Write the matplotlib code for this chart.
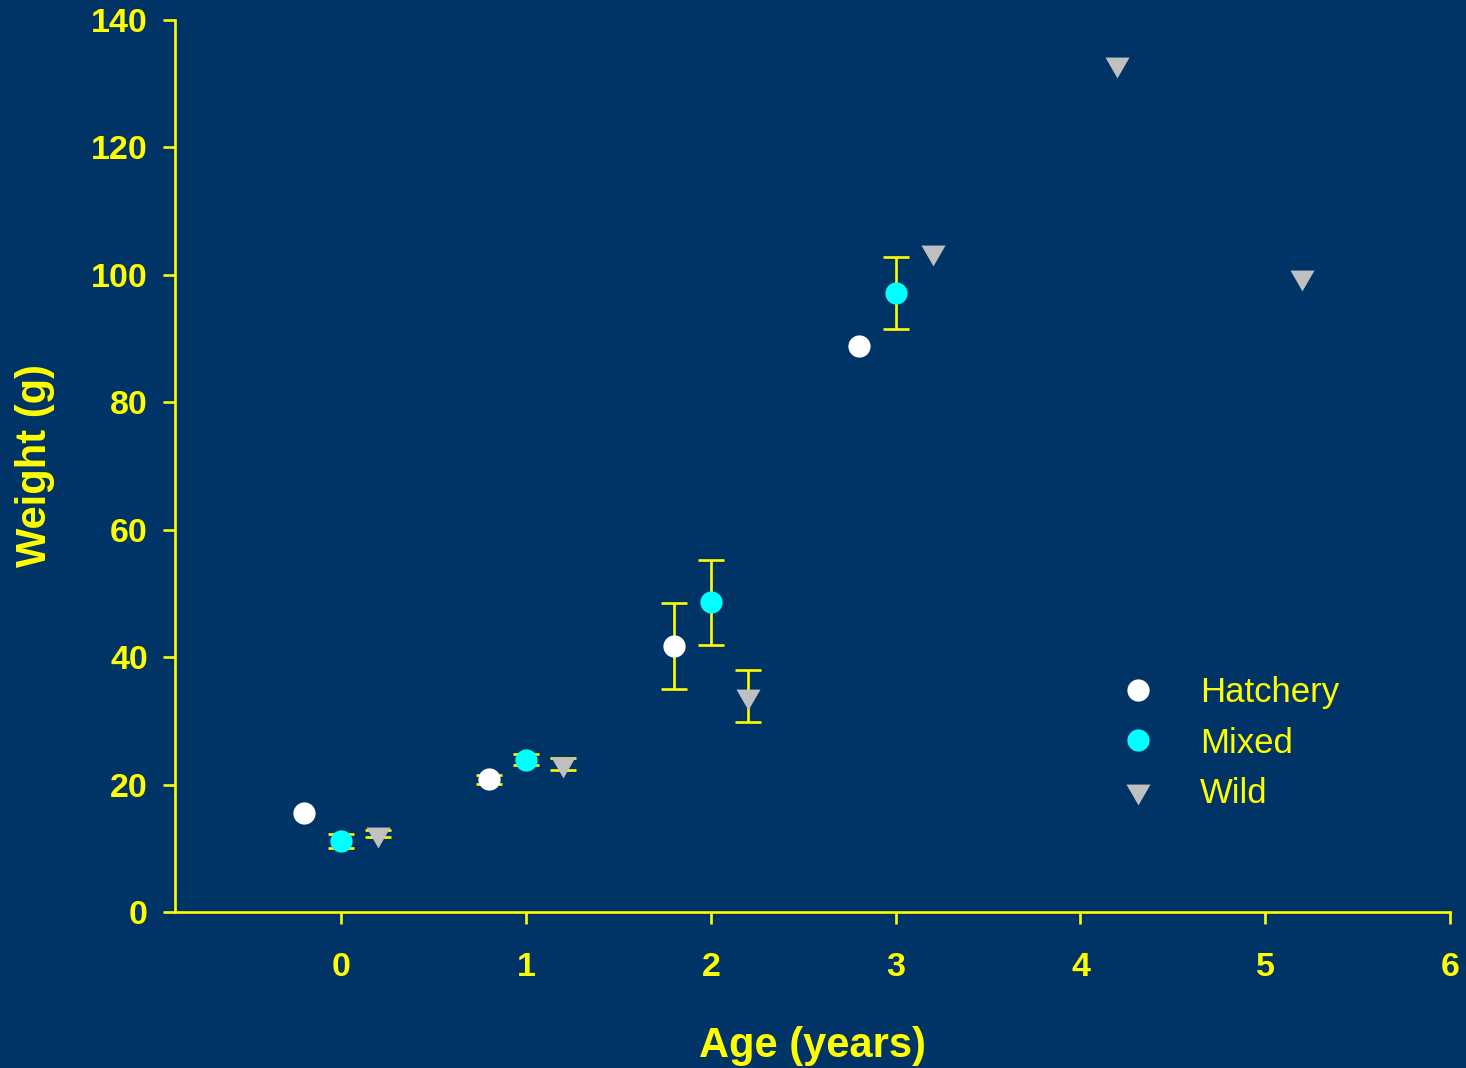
import numpy as np
import matplotlib
matplotlib.use('Agg')
import matplotlib.pyplot as plt
from matplotlib.path import Path

nan = np.nan

# mean weight by age group, with standard errors (nan = no error bar)
hatchery_age = [-0.2, 0.8, 1.8, 2.8]
hatchery_wt = [15.5, 20.8, 41.7, 88.8]
hatchery_err = [nan, 0.65, 6.75, nan]

mixed_age = [0.0, 1.0, 2.0, 3.0]
mixed_wt = [11.2, 23.9, 48.6, 97.1]
mixed_err = [1.1, 0.85, 6.7, 5.65]

wild_age = [0.2, 1.2, 2.2, 3.2, 4.2, 5.2]
wild_wt = [12.3, 23.2, 33.9, 103.6, 133.1, 99.6]
wild_err = [0.55, 0.9, 4.1, nan, nan, nan]

x_ticks = [0, 1, 2, 3, 4, 5, 6]
y_ticks = [0, 20, 40, 60, 80, 100, 120, 140]

BG = '#003366'
YEL = '#ffff00'

plt.rcParams['font.family'] = ['Liberation Sans', 'DejaVu Sans']

# downward triangle centred on its centroid
tri = Path([(-1, 0.577), (1, 0.577), (0, -1.155), (-1, 0.577)],
           [Path.MOVETO, Path.LINETO, Path.LINETO, Path.CLOSEPOLY])

fig = plt.figure(figsize=(14.66, 10.68), dpi=100, facecolor=BG)
ax = fig.add_axes([0.1194, 0.1461, 0.8697, 0.8352], facecolor=BG)

series = [
    ('Hatchery', hatchery_age, hatchery_wt, hatchery_err, 'o', 'white', 16),
    ('Mixed', mixed_age, mixed_wt, mixed_err, 'o', '#00ffff', 16),
    ('Wild', wild_age, wild_wt, wild_err, tri, '#c0c0c0', 20),
]

handles = []
for name, x, y, e, mk, col, ms in series:
    ax.errorbar(x, y, yerr=np.array(e, dtype=float), fmt='none', ecolor=YEL,
                elinewidth=1.9, capsize=9.2, capthick=1.9, zorder=2)
    h, = ax.plot(x, y, linestyle='none', marker=mk, markersize=ms,
                 markerfacecolor=col, markeredgecolor='none', zorder=3, label=name)
    handles.append(h)

ax.set_xlim(-0.9, 6)
ax.set_ylim(0, 140)
ax.set_xticks(x_ticks)
ax.set_yticks(y_ticks)

for s in ['top', 'right']:
    ax.spines[s].set_visible(False)
for s in ['left', 'bottom']:
    ax.spines[s].set_color(YEL)
    ax.spines[s].set_linewidth(1.9)

ax.tick_params(axis='both', colors=YEL, length=8.6, width=1.9, labelsize=24.5)
ax.tick_params(axis='x', pad=20)
ax.tick_params(axis='y', pad=11)
for lbl in ax.get_xticklabels() + ax.get_yticklabels():
    lbl.set_fontweight('bold')

ax.set_xlabel('Age (years)', fontsize=30, fontweight='bold', color=YEL, labelpad=31)
ax.set_ylabel('Weight (g)', fontsize=30, fontweight='bold', color=YEL, labelpad=26)

leg = ax.legend(handles=handles, loc='center left', bbox_to_anchor=(0.728, 0.1894),
                frameon=False, fontsize=25, numpoints=1, borderpad=0,
                borderaxespad=0, handlelength=2.0, handletextpad=0.78,
                labelspacing=0.5)
for t in leg.get_texts():
    t.set_color(YEL)

fig.savefig('out.png', dpi=100, facecolor=BG)
